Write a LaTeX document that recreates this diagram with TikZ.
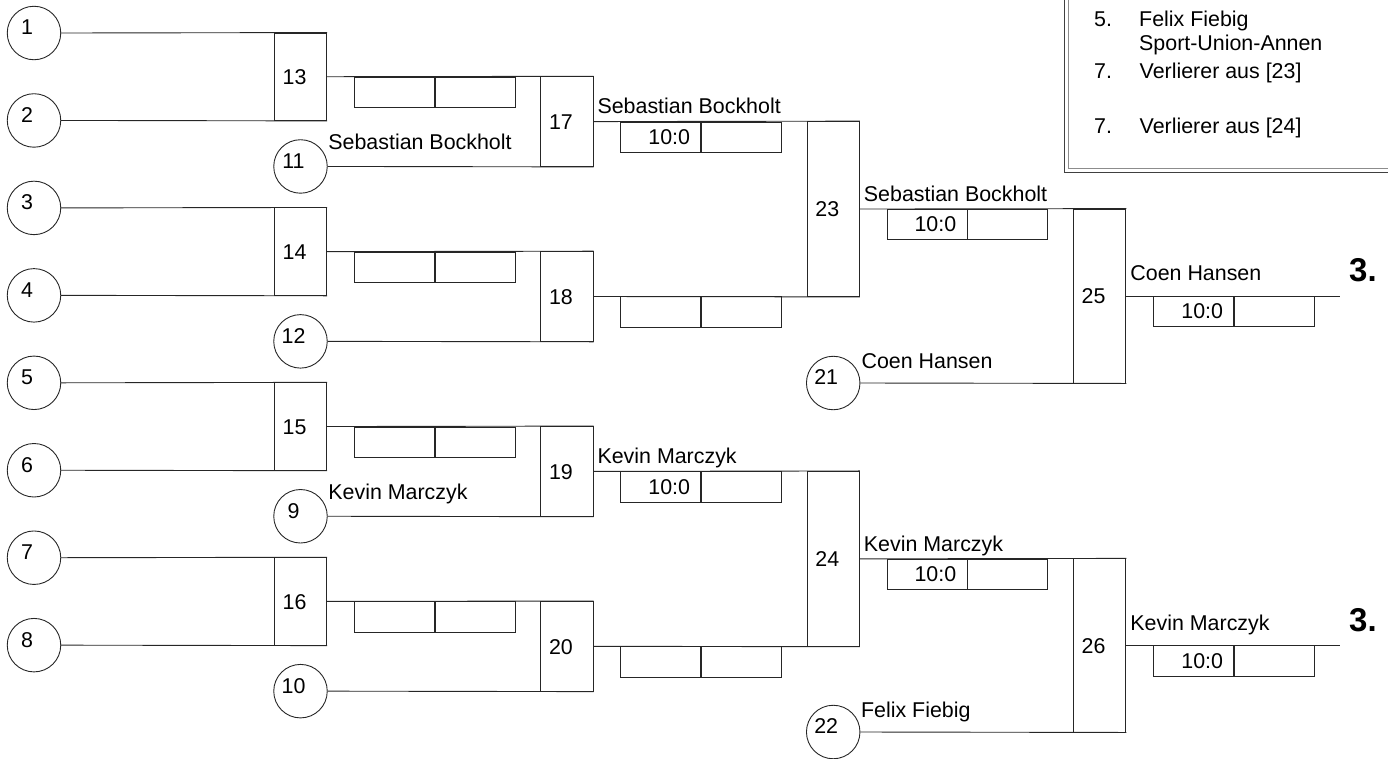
\documentclass[tikz,border=0pt]{standalone}
\usepackage{fontspec}
\setmainfont{Liberation Sans}
\usetikzlibrary{calc}
\newcommand\brfnt{\fontsize{21.4pt}{25pt}\selectfont}
\newcommand\placefnt{\fontsize{33pt}{38pt}\selectfont\bfseries}
\tikzset{
  x=1pt, y=-1pt,
  ln/.style={line width=0.9pt, draw=black!85},
  circ/.style={ln, circle, minimum size=53.5pt, inner sep=0pt},
  numlab/.style={font=\brfnt, inner sep=0pt, xshift=-7pt, yshift=5.5pt},
  mbox/.style={ln, rectangle, minimum width=52.4pt, inner sep=0pt},
  boxlab/.style={font=\brfnt, inner sep=0pt, xshift=-6pt, yshift=-0.5pt},
  cell/.style={ln, rectangle, minimum width=80pt, minimum height=30.4pt, inner sep=0pt, anchor=north west},
  sctxt/.style={font=\brfnt, inner sep=0pt, anchor=base east},
  lab/.style={font=\brfnt, inner sep=0pt, anchor=base west},
  place/.style={font=\placefnt, inner sep=0pt, anchor=base west},
}
\newcommand\circnode[4]{\node[circ, label={[numlab]center:#4}] (#1) at (#2,#3) {};}
\newcommand\matchnode[5]{\node[mbox, minimum height={#4-#3}, label={[boxlab]center:#5}] (#1) at (#2,{(#3+#4)/2}) {};}
\newcommand\scorenode[4]{%
  \node[cell] (#1a) at (#2,#3) {};
  \node[cell] (#1b) at (#1a.north east) {};
  \node[sctxt] (#1t) at ($(#1a.north east)+(-11,22.7)$) {#4};}
\begin{document}
\begin{tikzpicture}
\useasboundingbox (0,0) rectangle (1388,758);
% first-round circles
\circnode{c1}{34}{33}{1}
\circnode{c2}{34}{120.45}{2}
\circnode{c3}{34}{207.9}{3}
\circnode{c4}{34}{295.35}{4}
\circnode{c5}{34}{382.8}{5}
\circnode{c6}{34}{470.25}{6}
\circnode{c7}{34}{557.7}{7}
\circnode{c8}{34}{645.15}{8}
% second-round circles
\circnode{c11}{300.5}{166.45}{11}
\circnode{c12}{300.5}{341.35}{12}
\circnode{c9}{300.5}{516.25}{9}
\circnode{c10}{300.5}{691.15}{10}
\circnode{c21}{833.2}{383}{21}
\circnode{c22}{833.2}{732}{22}
% match boxes
\matchnode{m13}{300.5}{33}{120.45}{13}
\matchnode{m14}{300.5}{207.9}{295.35}{14}
\matchnode{m15}{300.5}{382.8}{470.25}{15}
\matchnode{m16}{300.5}{557.7}{645.15}{16}
\matchnode{m17}{566.9}{76.725}{166.45}{17}
\matchnode{m18}{566.9}{251.625}{341.35}{18}
\matchnode{m19}{566.9}{426.525}{516.25}{19}
\matchnode{m20}{566.9}{601.425}{691.15}{20}
\matchnode{m23}{833.3}{121.5875}{296.4875}{23}
\matchnode{m24}{833.3}{471.3875}{646.2875}{24}
\matchnode{m25}{1099.6}{209.0375}{383}{25}
\matchnode{m26}{1099.6}{558.8375}{732}{26}
% connectors
\draw[ln] (c1.east) -- (m13.north east);
\draw[ln] (c2.east) -- (m13.south east);
\draw[ln] (c3.east) -- (m14.north east);
\draw[ln] (c4.east) -- (m14.south east);
\draw[ln] (c5.east) -- (m15.north east);
\draw[ln] (c6.east) -- (m15.south east);
\draw[ln] (c7.east) -- (m16.north east);
\draw[ln] (c8.east) -- (m16.south east);
\draw[ln] (m13.east) -- (m17.north east);
\draw[ln] (c11.east) -- (m17.south east);
\draw[ln] (m14.east) -- (m18.north east);
\draw[ln] (c12.east) -- (m18.south east);
\draw[ln] (m15.east) -- (m19.north east);
\draw[ln] (c9.east) -- (m19.south east);
\draw[ln] (m16.east) -- (m20.north east);
\draw[ln] (c10.east) -- (m20.south east);
\draw[ln] (m17.east) -- (m23.north east);
\draw[ln] (m18.east) -- (m23.south east);
\draw[ln] (m19.east) -- (m24.north east);
\draw[ln] (m20.east) -- (m24.south east);
\draw[ln] (m23.east) -- (m25.north east);
\draw[ln] (c21.east) -- (m25.south east);
\draw[ln] (m24.east) -- (m26.north east);
\draw[ln] (c22.east) -- (m26.south east);
\coordinate (e25) at (1340,209.0375/2+383/2);
\coordinate (e26) at (1340,558.8375/2+732/2);
\draw[ln] (m25.east) -- (e25);
\draw[ln] (m26.east) -- (e26);
% score boxes
\scorenode{s13}{354}{76.725}{}
\scorenode{s14}{354}{251.625}{}
\scorenode{s15}{354}{426.525}{}
\scorenode{s16}{354}{601.425}{}
\scorenode{s17}{620.3}{121.5875}{10:0}
\scorenode{s18}{620.3}{296.4875}{}
\scorenode{s19}{620.3}{471.3875}{10:0}
\scorenode{s20}{620.3}{646.2875}{}
\scorenode{s23}{886.5}{209.0375}{10:0}
\scorenode{s24}{886.5}{558.8375}{10:0}
\scorenode{s25}{1153.3}{296.02}{10:0}
\scorenode{s26}{1153.3}{645.42}{10:0}
% names
\node[lab] at ($(c11.east)+(0.5,-16.5)$) {Sebastian Bockholt};
\node[lab] at ($(m17.east)+(3.8,-8)$) {Sebastian Bockholt};
\node[lab] at ($(m23.east)+(3.8,-7.6)$) {Sebastian Bockholt};
\node[lab] at ($(c21.east)+(1,-14.6)$) {Coen Hansen};
\node[lab] at ($(m25.east)+(4,-15.3)$) {Coen Hansen};
\node[lab] at ($(c9.east)+(0.5,-16.5)$) {Kevin Marczyk};
\node[lab] at ($(m19.east)+(3.8,-8)$) {Kevin Marczyk};
\node[lab] at ($(m24.east)+(3.8,-7.6)$) {Kevin Marczyk};
\node[lab] at ($(c22.east)+(0.5,-15)$) {Felix Fiebig};
\node[lab] at ($(m26.east)+(4,-15.3)$) {Kevin Marczyk};
\node[place] (p3a) at (1349,281.7) {3.};
\node[place] (p3b) at (1349,631.1) {3.};
% legend
\draw[line width=1pt, draw=black!75] (1064,-5) -- (1064,172) -- (1395,172);
\draw[line width=1pt, draw=black!45] (1068,-5) -- (1068,168.3) -- (1395,168.3);
\node[lab] at (1094,26.7) {5.};
\node[lab] at (1139,26.7) {Felix Fiebig};
\node[lab] at (1139,50.3) {Sport-Union-Annen};
\node[lab] at (1094,78.3) {7.};
\node[lab] at (1139.5,78.3) {Verlierer aus [23]};
\node[lab] at (1094,133.3) {7.};
\node[lab] at (1139.5,133.3) {Verlierer aus [24]};
\end{tikzpicture}
\end{document}
